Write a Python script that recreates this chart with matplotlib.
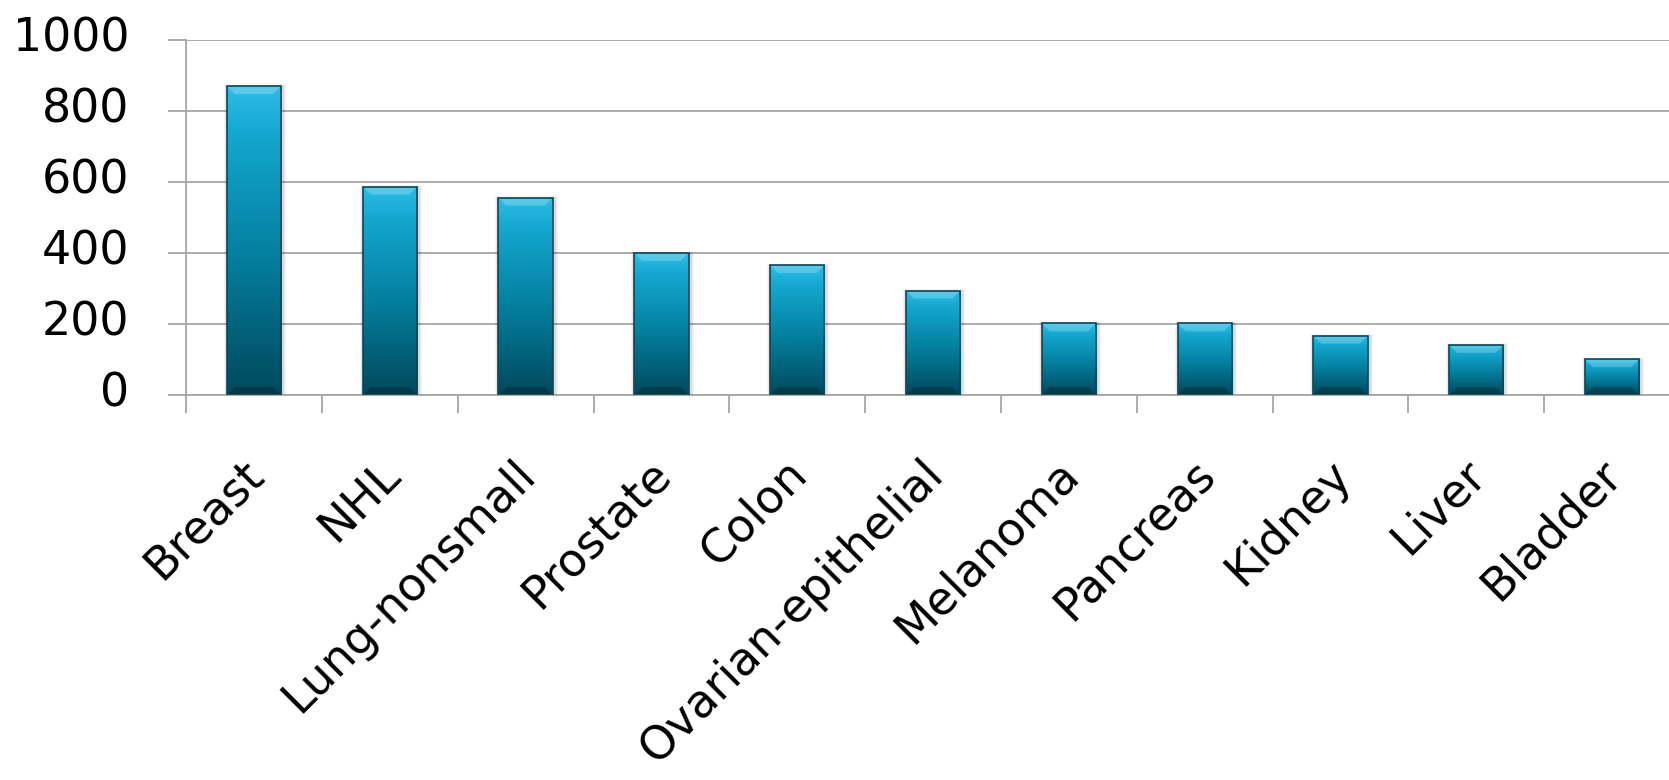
import matplotlib
matplotlib.use("Agg")
import matplotlib.pyplot as plt
import matplotlib.transforms as mtransforms
from matplotlib.colors import LinearSegmentedColormap
from matplotlib.patches import Rectangle, Polygon
import numpy as np

cancers = ["Breast", "NHL", "Lung-nonsmall", "Prostate", "Colon",
           "Ovarian-epithelial", "Melanoma", "Pancreas", "Kidney", "Liver", "Bladder"]
counts = [870, 587, 556, 400, 366, 294, 202, 202, 167, 141, 101]
yticks = [0, 200, 400, 600, 800, 1000]

plt.rcParams.update({
    "font.family": "DejaVu Sans",
    "font.size": 33,
})

bar_cmap = LinearSegmentedColormap.from_list(
    "teal", [(0.0, "#01495c"), (0.45, "#047f9f"), (0.85, "#14a8d0"), (1.0, "#2cbde6")])

fig = plt.figure(figsize=(16.69, 7.80), dpi=100)
ax = fig.add_axes([0.1115, 0.4936, 0.8951, 0.4551])

x = np.arange(len(cancers))
w = 0.40
bars = ax.bar(x, counts, width=w, color="none", edgecolor="#0b4756", lw=1.2, zorder=3)

grad = np.linspace(0, 1, 256).reshape(-1, 1)
px_y = 1000 / 355.0   # data units per pixel (vertical)
px_x = 1 / 135.8      # data units per pixel (horizontal)
for b in bars:
    x0, h = b.get_x(), b.get_height()
    # soft shadow
    for k, a in enumerate([0.06, 0.05, 0.04]):
        ax.add_patch(Rectangle((x0 - (k + 1) * px_x, 0), w + 2 * (k + 2) * px_x,
                               h + (k + 1) * px_y * 0.5, color="black", alpha=a,
                               lw=0, zorder=1.5))
    im = ax.imshow(grad, extent=(x0, x0 + w, 0, h), origin="lower", cmap=bar_cmap,
                   aspect="auto", zorder=2, interpolation="bicubic")
    im.set_clip_path(b)
    bv, bh = 8 * px_y, 8 * px_x
    ax.add_patch(Polygon([(x0, h), (x0 + w, h), (x0 + w - bh, h - bv), (x0 + bh, h - bv)],
                         closed=True, color="white", alpha=0.22, lw=0, zorder=2.5))
    ax.add_patch(Polygon([(x0, 0), (x0 + w, 0), (x0 + w - bh, bv), (x0 + bh, bv)],
                         closed=True, color="black", alpha=0.22, lw=0, zorder=2.5))

ax.set_xlim(-0.5, 10.5)
ax.set_ylim(0, 1000)
ax.set_yticks(yticks)
ax.grid(axis="y", color="#a6a6a6", lw=1.3, zorder=0)
ax.set_axisbelow(True)
for s in ["top", "right"]:
    ax.spines[s].set_visible(False)
for s in ["left", "bottom"]:
    ax.spines[s].set_color("#a6a6a6")
    ax.spines[s].set_linewidth(1.3)

ax.tick_params(axis="y", length=13, width=1.3, color="#a6a6a6", pad=28)
ax.set_xticks(x)
ax.set_xticklabels(cancers, rotation=45, ha="right", va="center", rotation_mode="anchor")
ax.set_xticks(np.arange(-0.5, 10.5, 1), minor=True)
ax.tick_params(axis="x", which="major", length=0, pad=52)
ax.tick_params(axis="x", which="minor", length=13, width=1.3, color="#a6a6a6")

off = mtransforms.ScaledTranslation(0.03, 0, fig.dpi_scale_trans)
for lab in ax.get_xticklabels():
    lab.set_transform(lab.get_transform() + off)
up = mtransforms.ScaledTranslation(0, 0.06, fig.dpi_scale_trans)
for lab in ax.get_yticklabels():
    lab.set_transform(lab.get_transform() + up)

fig.savefig("out.png", dpi=100)
